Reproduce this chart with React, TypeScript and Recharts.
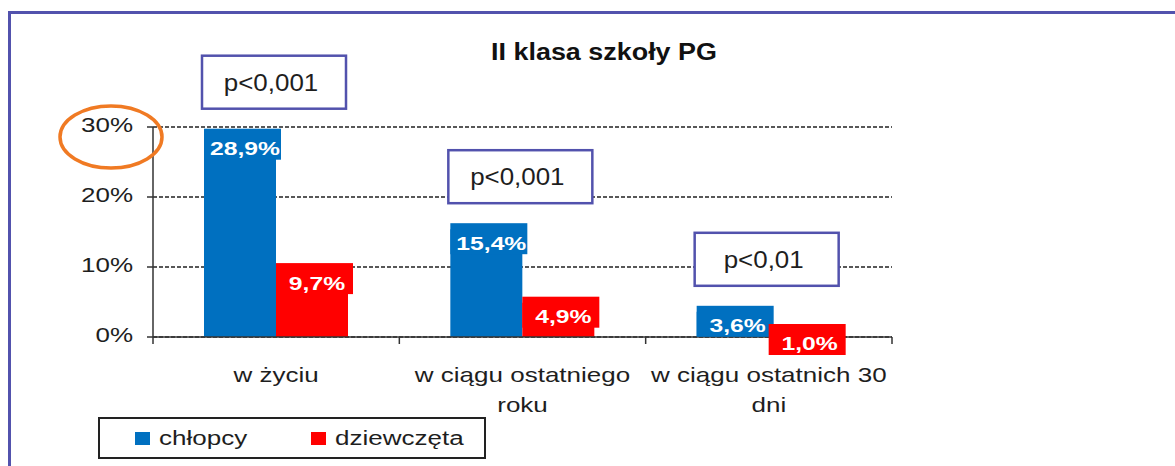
import React from "react";
import {
  BarChart,
  Bar,
  XAxis,
  YAxis,
  CartesianGrid,
  Legend,
  LabelList,
} from "recharts";

// dane z wykresu
const categories = ["w życiu", "w ciągu ostatniego\nroku", "w ciągu ostatnich 30\ndni"];
const chlopcy = [28.9, 15.4, 3.6];
const dziewczeta = [9.7, 4.9, 1.0];
const pValues = ["p<0,001", "p<0,001", "p<0,01"];
const yTicks = [0, 10, 20, 30];
const seriesNames = ["chłopcy", "dziewczęta"];

const BLUE = "#0070C0";
const RED = "#FF0000";
const INK = "#1e1e1e";
const FRAME = "#5252ad";
const FONT = "'Liberation Sans', Arial, sans-serif";
const SX = 1.3; // tekst w oryginale jest rozciągnięty w poziomie

const data = categories.map((name, i) => ({
  name,
  chlopcy: chlopcy[i],
  dziewczeta: dziewczeta[i],
  p: pValues[i],
}));

const fmt = (v: number) => v.toFixed(1).replace(".", ",") + "%";

const WideText = ({ x, y, size, sx = SX, anchor = "middle", weight = "normal", fill = INK, children }: any) => (
  <text
    transform={`translate(${x},${y}) scale(${sx},1)`}
    textAnchor={anchor}
    dominantBaseline="central"
    fontSize={size}
    fontWeight={weight}
    fill={fill}
    fontFamily={FONT}
  >
    {children}
  </text>
);

const YTick = ({ x, y, payload }: any) => (
  <WideText x={x} y={y - 2} size={20} anchor="end">
    {payload.value}%
  </WideText>
);

const XTick = ({ x, y, payload, index, width, visibleTicksCount }: any) => {
  const half = width && visibleTicksCount ? width / visibleTicksCount / 2 : 123;
  const lines = String(payload.value).split("\n");
  return (
    <g>
      <line x1={x - half} y1={y} x2={x - half} y2={y + 7} stroke="#333" strokeWidth={1.5} />
      {index === categories.length - 1 && (
        <line x1={x + half} y1={y} x2={x + half} y2={y + 7} stroke="#333" strokeWidth={1.5} />
      )}
      {lines.map((l, i) => (
        <WideText key={i} x={x} y={y + 38 + i * 30} size={20}>
          {l}
        </WideText>
      ))}
    </g>
  );
};

// etykieta wartości z tłem w kolorze słupka (jak w Excelu)
const valueLabel = (color: string) => (props: any) => {
  const { x, y, width, value } = props;
  const cy = y + 14;
  return (
    <g>
      <rect x={x} y={cy - 20} width={width + 5} height={31} fill={color} />
      <WideText x={x + width / 2 + 5} y={cy} size={19} weight="bold" fill="#fff">
        {fmt(value)}
      </WideText>
    </g>
  );
};

const PBox = (props: any) => {
  const { x, y, width, index } = props;
  const cx = x + width - 2;
  const bw = 144;
  const bh = 53;
  const top = y - 26 - bh;
  return (
    <g>
      <rect x={cx - bw / 2} y={top} width={bw} height={bh} fill="#fff" stroke={FRAME} strokeWidth={2.5} />
      <WideText x={cx - 3} y={top + bh / 2} size={24} sx={1.08}>
        {pValues[index]}
      </WideText>
    </g>
  );
};

const LegendBox = () => {
  const colors = [BLUE, RED];
  const xs = [35, 211];
  return (
    <div
      style={{
        position: "relative",
        width: 388,
        height: 42,
        border: "2px solid #222",
        boxSizing: "border-box",
        background: "#fff",
      }}
    >
      {seriesNames.map((n, i) => (
        <React.Fragment key={n}>
          <div
            style={{
              position: "absolute",
              left: xs[i],
              top: 13,
              width: 15,
              height: 13,
              background: colors[i],
            }}
          />
          <div
            style={{
              position: "absolute",
              left: xs[i] + 24,
              top: 6,
              fontSize: 20,
              lineHeight: "26px",
              fontFamily: FONT,
              color: INK,
              transform: `scaleX(${SX})`,
              transformOrigin: "left center",
              whiteSpace: "nowrap",
            }}
          >
            {n}
          </div>
        </React.Fragment>
      ))}
    </div>
  );
};

export default function App() {
  return (
    <div style={{ position: "absolute", left: 0, top: 0, width: 1175, height: 466, background: "#fff", overflow: "hidden" }}>
      <div
        style={{
          position: "absolute",
          left: 8,
          top: 11,
          width: 1175,
          height: 466,
          borderTop: `3px solid ${FRAME}`,
          borderLeft: `3px solid ${FRAME}`,
          boxSizing: "border-box",
        }}
      />
      <div
        style={{
          position: "absolute",
          left: 604,
          top: 52,
          transform: "translate(-50%, -50%) scaleX(1.17)",
          fontFamily: FONT,
          fontWeight: "bold",
          fontSize: 23,
          color: "#111",
          whiteSpace: "nowrap",
        }}
      >
        II klasa szkoły PG
      </div>
      <div style={{ position: "absolute", left: 0, top: 0 }}>
        <BarChart
          width={1175}
          height={466}
          data={data}
          margin={{ top: 127, right: 283, bottom: 69, left: 93 }}
          barCategoryGap={51}
          barGap={0}
        >
          <CartesianGrid vertical={false} stroke="#222" strokeDasharray="4 2" strokeWidth={1.3} />
          <XAxis
            dataKey="name"
            height={60}
            interval={0}
            tickLine={false}
            tickSize={0}
            tickMargin={0}
            axisLine={{ stroke: "#333", strokeWidth: 1.5 }}
            tick={<XTick />}
          />
          <YAxis
            width={60}
            domain={[0, 30]}
            ticks={yTicks}
            tickSize={6}
            tickMargin={14}
            axisLine={{ stroke: "#333", strokeWidth: 1.5 }}
            tickLine={{ stroke: "#333", strokeWidth: 1.5 }}
            tick={<YTick />}
          />
          <Legend
            layout="horizontal"
            verticalAlign="middle"
            align="center"
            wrapperStyle={{ left: 98, top: 417, width: 388, height: 42 }}
            content={() => <LegendBox />}
          />
          <Bar dataKey="chlopcy" name={seriesNames[0]} fill={BLUE} isAnimationActive={false}>
            <LabelList dataKey="chlopcy" content={valueLabel(BLUE)} />
            <LabelList dataKey="p" content={PBox} />
          </Bar>
          <Bar dataKey="dziewczeta" name={seriesNames[1]} fill={RED} isAnimationActive={false}>
            <LabelList dataKey="dziewczeta" content={valueLabel(RED)} />
          </Bar>
        </BarChart>
      </div>
      <svg width={1175} height={466} style={{ position: "absolute", left: 0, top: 0, pointerEvents: "none" }}>
        <ellipse cx={111} cy={137} rx={51} ry={31} fill="none" stroke="#F07A23" strokeWidth={3.5} />
      </svg>
    </div>
  );
}
